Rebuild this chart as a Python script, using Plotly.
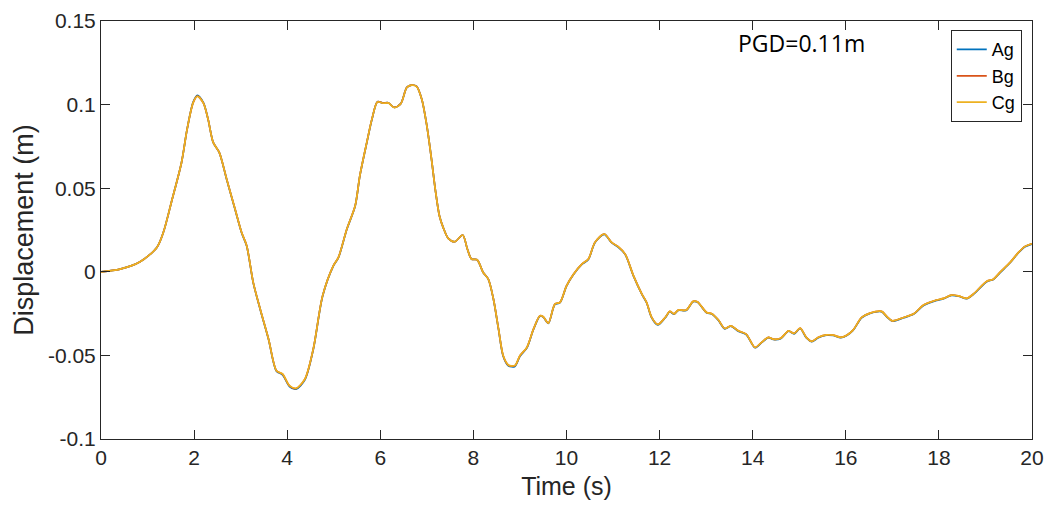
import plotly.graph_objects as go

t = [0, 0.41, 0.84, 1.2, 1.34, 1.52, 1.73, 1.85, 1.98, 2.07, 2.2, 2.3, 2.41, 2.54, 2.7, 2.88,
     3.02, 3.13, 3.27, 3.42, 3.6, 3.77, 3.9, 4.05, 4.19, 4.38, 4.56, 4.76, 4.99, 5.1, 5.28,
     5.46, 5.56, 5.71, 5.82, 5.94, 6.06, 6.17, 6.3, 6.44, 6.57, 6.67, 6.78, 6.89, 7.0, 7.1,
     7.18, 7.27, 7.35, 7.46, 7.6, 7.77, 7.87, 7.96, 8.08, 8.21, 8.32, 8.43, 8.54, 8.64, 8.75,
     8.89, 9.0, 9.15, 9.29, 9.43, 9.5, 9.61, 9.75, 9.86, 10.0, 10.15, 10.33, 10.47, 10.61,
     10.81, 10.97, 11.11, 11.26, 11.44, 11.62, 11.72, 11.83, 11.96, 12.12, 12.22, 12.31, 12.4,
     12.57, 12.72, 12.81, 13.01, 13.12, 13.26, 13.4, 13.53, 13.69, 13.86, 14.05, 14.19, 14.34,
     14.44, 14.6, 14.77, 14.89, 15.02, 15.15, 15.27, 15.41, 15.59, 15.73, 15.89, 16.02, 16.16,
     16.34, 16.52, 16.77, 16.88, 17.0, 17.24, 17.46, 17.67, 17.95, 18.1, 18.27, 18.42, 18.6,
     18.74, 19.03, 19.17, 19.31, 19.53, 19.71, 19.85, 20.0]

ag = [0, 0.0016, 0.006, 0.0146, 0.0236, 0.0425, 0.0654, 0.0853, 0.1015, 0.1056, 0.1012, 0.0913,
      0.0774, 0.0714, 0.0552, 0.0373, 0.0234, 0.0154, -0.0065, -0.0225, -0.0405, -0.0595,
      -0.0616, -0.0686, -0.0702, -0.0646, -0.0465, -0.0146, 0.0034, 0.0084, 0.0253, 0.0393,
      0.0572, 0.0772, 0.0911, 0.1017, 0.1009, 0.1011, 0.0983, 0.1006, 0.1103, 0.1117, 0.1109,
      0.1033, 0.0873, 0.0674, 0.0495, 0.0335, 0.0266, 0.02, 0.018, 0.022, 0.0136, 0.0076,
      0.0072, -0.0004, -0.0044, -0.0163, -0.0345, -0.0505, -0.0562, -0.0566, -0.0505, -0.0455,
      -0.0345, -0.0265, -0.0271, -0.0309, -0.0195, -0.0185, -0.0086, -0.0016, 0.0044, 0.0074,
      0.0174, 0.0224, 0.0174, 0.0148, 0.0104, -0.0026, -0.0135, -0.0185, -0.0275, -0.0318,
      -0.0275, -0.0239, -0.0254, -0.0231, -0.0231, -0.0179, -0.0181, -0.0245, -0.0253, -0.0289,
      -0.0341, -0.0325, -0.0355, -0.0375, -0.0454, -0.0424, -0.0394, -0.0405, -0.0400, -0.0355,
      -0.0371, -0.0339, -0.0394, -0.0418, -0.0394, -0.0379, -0.0381, -0.0394, -0.0381, -0.0349,
      -0.0275, -0.0249, -0.0239, -0.0269, -0.0295, -0.0275, -0.0253, -0.0201, -0.0171, -0.0161,
      -0.0141, -0.0146, -0.0161, -0.0135, -0.0059, -0.0046, -0.0006, 0.0054, 0.0114, 0.0150,
      0.0166]

bg = [0, 0.0016, 0.006, 0.0146, 0.0236, 0.0425, 0.0654, 0.0853, 0.1012, 0.1051, 0.1009, 0.0913,
      0.0774, 0.0714, 0.0554, 0.0375, 0.0236, 0.0156, -0.0063, -0.0223, -0.0403, -0.0592,
      -0.0612, -0.0682, -0.0698, -0.0642, -0.0462, -0.0144, 0.0036, 0.0086, 0.0255, 0.0395,
      0.0574, 0.0774, 0.0913, 0.1017, 0.1009, 0.1011, 0.0983, 0.1006, 0.1103, 0.1117, 0.1109,
      0.1033, 0.0873, 0.0674, 0.0495, 0.0335, 0.0266, 0.02, 0.018, 0.022, 0.0136, 0.0076,
      0.0072, -0.0004, -0.0044, -0.0163, -0.0343, -0.0502, -0.0558, -0.0562, -0.0502, -0.0452,
      -0.0343, -0.0263, -0.0269, -0.0307, -0.0193, -0.0183, -0.0084, -0.0014, 0.0046, 0.0076,
      0.0176, 0.0226, 0.0176, 0.015, 0.0106, -0.0024, -0.0133, -0.0183, -0.0273, -0.0315,
      -0.0273, -0.0237, -0.0252, -0.0229, -0.0229, -0.0177, -0.0179, -0.0243, -0.0251, -0.0287,
      -0.0339, -0.0323, -0.0353, -0.0373, -0.0452, -0.0422, -0.0392, -0.0403, -0.0398, -0.0353,
      -0.0369, -0.0337, -0.0392, -0.0416, -0.0392, -0.0377, -0.0379, -0.0392, -0.0379, -0.0347,
      -0.0273, -0.0247, -0.0237, -0.0267, -0.0293, -0.0273, -0.0251, -0.0199, -0.0169, -0.0159,
      -0.0139, -0.0144, -0.0159, -0.0133, -0.0057, -0.0044, -0.0004, 0.0056, 0.0116, 0.0152,
      0.0168]

cg = [0, 0.0016, 0.006, 0.0146, 0.0236, 0.0425, 0.0654, 0.0853, 0.1012, 0.1050, 0.1009, 0.0913,
      0.0774, 0.0714, 0.0554, 0.0375, 0.0236, 0.0156, -0.0063, -0.0223, -0.0403, -0.0592,
      -0.0611, -0.0681, -0.0697, -0.0641, -0.0462, -0.0144, 0.0036, 0.0086, 0.0255, 0.0395,
      0.0574, 0.0774, 0.0913, 0.1016, 0.1008, 0.1010, 0.0982, 0.1005, 0.1102, 0.1116, 0.1108,
      0.1033, 0.0873, 0.0674, 0.0495, 0.0335, 0.0266, 0.02, 0.018, 0.022, 0.0136, 0.0076,
      0.0072, -0.0004, -0.0044, -0.0163, -0.0343, -0.0501, -0.0557, -0.0561, -0.0501, -0.0451,
      -0.0343, -0.0263, -0.0269, -0.0307, -0.0193, -0.0183, -0.0084, -0.0014, 0.0046, 0.0076,
      0.0176, 0.0226, 0.0176, 0.015, 0.0106, -0.0024, -0.0133, -0.0183, -0.0273, -0.0315,
      -0.0273, -0.0237, -0.0252, -0.0229, -0.0229, -0.0177, -0.0179, -0.0243, -0.0251, -0.0287,
      -0.0339, -0.0323, -0.0353, -0.0373, -0.0452, -0.0422, -0.0392, -0.0403, -0.0398, -0.0353,
      -0.0369, -0.0337, -0.0392, -0.0416, -0.0392, -0.0377, -0.0379, -0.0392, -0.0379, -0.0347,
      -0.0273, -0.0247, -0.0237, -0.0267, -0.0293, -0.0273, -0.0251, -0.0199, -0.0169, -0.0159,
      -0.0139, -0.0144, -0.0159, -0.0133, -0.0057, -0.0044, -0.0004, 0.0056, 0.0116, 0.0152,
      0.0168]

series_names = ["Ag", "Bg", "Cg"]
series_values = [ag, bg, cg]
series_colors = ["#0072BD", "#D95319", "#EDB120"]

x_ticks = [0, 2, 4, 6, 8, 10, 12, 14, 16, 18, 20]
y_ticks = [-0.1, -0.05, 0, 0.05, 0.1, 0.15]
y_ticklabels = ["-0.1", "-0.05", "0", "0.05", "0.1", "0.15"]
annotation_text = "PGD=0.11m"

fig = go.Figure()
for name, vals, col in zip(series_names, series_values, series_colors):
    fig.add_trace(go.Scatter(x=t, y=vals, mode="lines", name=name,
                             line=dict(color=col, width=1.7, shape="spline", smoothing=0.8)))

axis_common = dict(showgrid=False, zeroline=False, showline=True, linecolor="#262626",
                   linewidth=1, mirror="ticks", ticks="inside", ticklen=9, tickcolor="#262626",
                   automargin=False,
                   tickfont=dict(family="Liberation Sans, Arial", size=21, color="#262626"))

fig.update_layout(
    width=1048, height=508,
    margin=dict(l=101, r=16, t=21, b=69, autoexpand=False),
    paper_bgcolor="white", plot_bgcolor="white",
    xaxis=dict(range=[0, 20], tickvals=x_ticks,
               title=dict(text="Time (s)", font=dict(family="Liberation Sans, Arial", size=25, color="#262626"), standoff=9),
               **axis_common),
    yaxis=dict(range=[-0.1, 0.15], tickvals=y_ticks, ticktext=y_ticklabels,
               title=dict(text="Displacement (m)", font=dict(family="Liberation Sans, Arial", size=27, color="#262626"), standoff=6),
               **axis_common),
    legend=dict(x=0.989, y=0.978, xanchor="right", yanchor="top", bgcolor="white",
                bordercolor="#262626", borderwidth=1,
                font=dict(family="Liberation Sans, Arial", size=18, color="black"),
                itemwidth=30, tracegroupgap=0),
    showlegend=True,
    annotations=[dict(text=annotation_text, x=13.65, y=0.137, xref="x", yref="y",
                      xanchor="left", yanchor="middle", showarrow=False,
                      font=dict(family="Open Sans", size=23, color="black"))],
)

fig.write_html("out.html")
